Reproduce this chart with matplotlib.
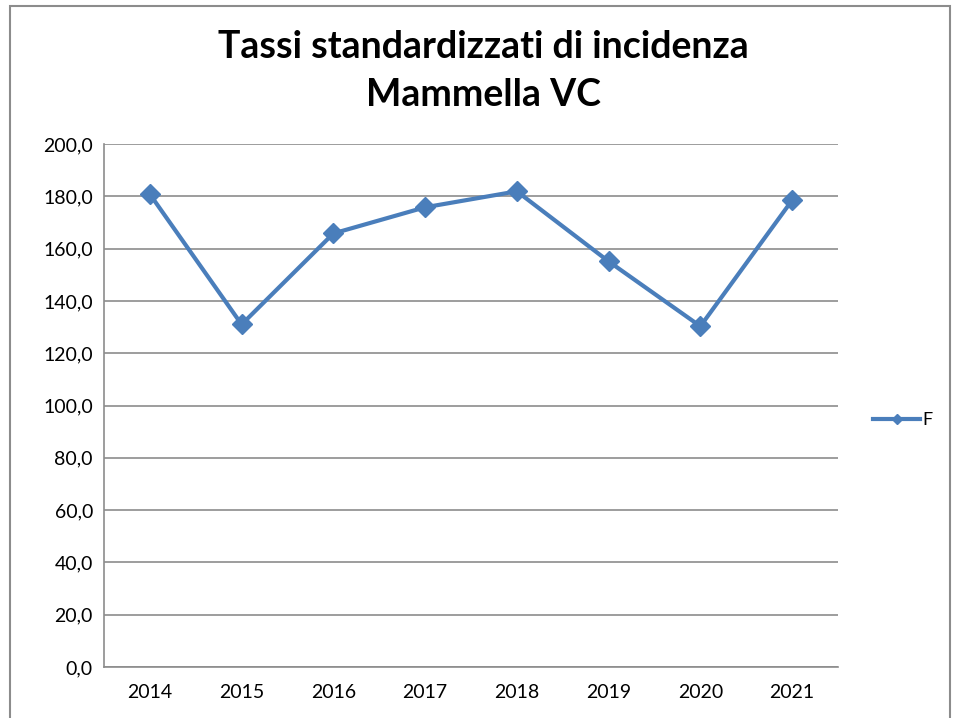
import matplotlib
matplotlib.use("Agg")
import matplotlib.pyplot as plt
from matplotlib.patches import Rectangle

# data
years = ["2014", "2015", "2016", "2017", "2018", "2019", "2020", "2021"]
tassi_f = [180.8, 131.0, 165.8, 175.8, 181.9, 155.1, 130.3, 178.5]
y_ticks = [0, 20, 40, 60, 80, 100, 120, 140, 160, 180, 200]

plt.rcParams['font.family'] = ['Lato', 'DejaVu Sans']

fig = plt.figure(figsize=(9.6, 7.18), dpi=100)
ax = fig.add_axes([104 / 960, 1 - 667 / 718, (838 - 104) / 960, (667 - 144) / 718])

# chart frame like the spreadsheet export
fig.patches.append(Rectangle((10 / 960, -0.01), 940 / 960, 1 - 6 / 718 + 0.01,
                             transform=fig.transFigure, fill=False,
                             edgecolor="#8c8c8c", linewidth=1.5))

x = list(range(len(years)))
ax.plot(x, tassi_f, color="#4a7ebb", linewidth=3, marker="D", markersize=10,
        label="F", zorder=3)

ax.set_xlim(-0.5, len(years) - 0.5)
ax.set_ylim(0, 200)
ax.set_xticks(x)
ax.set_xticklabels(years)
ax.set_yticks(y_ticks)
ax.set_yticklabels([f"{v:.1f}".replace(".", ",") for v in y_ticks])

ax.grid(axis="y", color="#8c8c8c", linewidth=1.2)
ax.set_axisbelow(True)
for s in ["top", "right"]:
    ax.spines[s].set_visible(False)
for s in ["left", "bottom"]:
    ax.spines[s].set_color("#8c8c8c")
    ax.spines[s].set_linewidth(1.2)
ax.tick_params(axis="both", length=0, labelsize=14, colors="#000000", pad=12)
ax.tick_params(axis="y", pad=8)

fig.text(0.504, 1 - 47 / 718, "Tassi standardizzati di incidenza", ha="center",
         va="center", fontsize=27, fontweight="bold")
fig.text(0.504, 1 - 95 / 718, "Mammella VC", ha="center", va="center",
         fontsize=27, fontweight="bold")

fig.legend(loc="center left", bbox_to_anchor=(857 / 960, 1 - 420 / 718),
           frameon=False, fontsize=13, handlelength=2.6, handletextpad=0.1,
           markerscale=0.55)

fig.savefig("out.png", dpi=100)
